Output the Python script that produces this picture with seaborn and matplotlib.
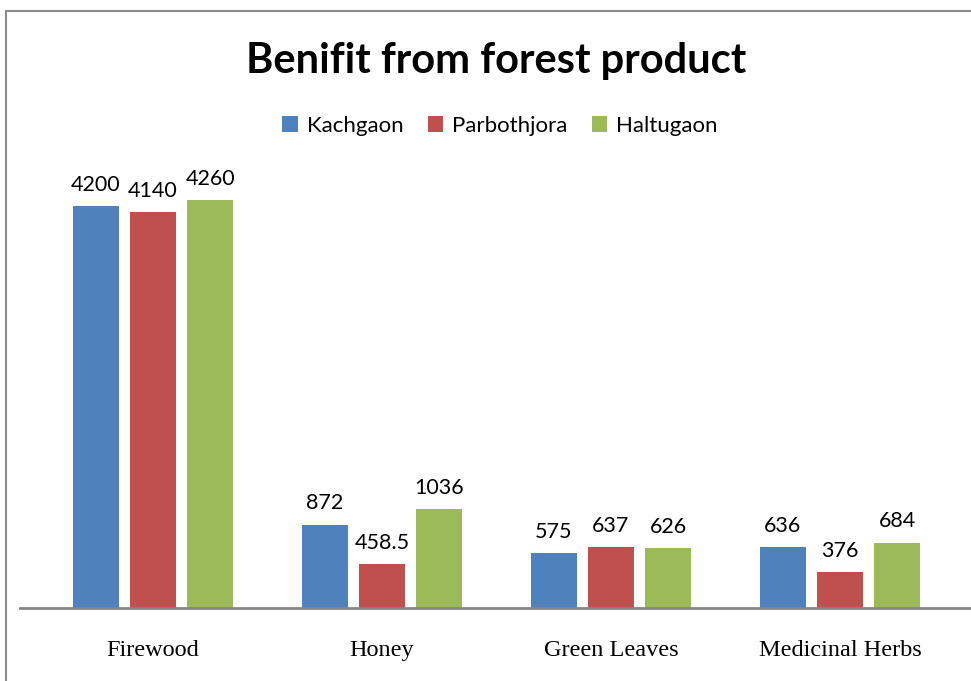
import matplotlib
matplotlib.use("Agg")
import matplotlib.pyplot as plt
import matplotlib.patches as mpatches
import seaborn as sns
import pandas as pd

categories = ["Firewood", "Honey", "Green Leaves", "Medicinal Herbs"]
series_names = ["Kachgaon", "Parbothjora", "Haltugaon"]
kachgaon = [4200, 872, 575, 636]
parbothjora = [4140, 458.5, 637, 376]
haltugaon = [4260, 1036, 626, 684]
label_text = {
    "Kachgaon": ["4200", "872", "575", "636"],
    "Parbothjora": ["4140", "458.5", "637", "376"],
    "Haltugaon": ["4260", "1036", "626", "684"],
}
colors = ["#4F81BD", "#C0504D", "#9BBB59"]

rows = []
for name, vals in zip(series_names, [kachgaon, parbothjora, haltugaon]):
    for c, v in zip(categories, vals):
        rows.append({"Product": c, "Village": name, "Value": v})
df = pd.DataFrame(rows)

sns.set_style("white")
plt.rcParams["font.family"] = ["Lato", "DejaVu Sans"]
plt.rcParams["text.color"] = "black"
plt.rcParams["xtick.color"] = "black"
plt.rcParams["axes.labelcolor"] = "black"

W, H = 971, 681
fig = plt.figure(figsize=(W / 100, H / 100), dpi=100)
ax = fig.add_axes([20 / W, (H - 608) / H, (971 - 20) / W, (608 - 140) / H])

sns.barplot(data=df, x="Product", y="Value", hue="Village", order=categories,
            hue_order=series_names, palette=colors, width=0.75, gap=0.2,
            ax=ax, saturation=1, edgecolor="none", legend=False)

px_per_cat = 229.0
ax.set_xlim(-(153 - 20) / px_per_cat, (971 - 153) / px_per_cat)
ax.set_ylim(0, (608 - 140) / 0.0957)

for container, name in zip(ax.containers, series_names):
    ax.bar_label(container, labels=label_text[name], padding=8, fontsize=15.5,
                 color="black")

for s in ["top", "right", "left"]:
    ax.spines[s].set_visible(False)
ax.spines["bottom"].set_color("#868686")
ax.spines["bottom"].set_linewidth(2)
ax.set_yticks([])
ax.set_xlabel("")
ax.set_ylabel("")
ax.tick_params(axis="x", length=0, pad=23, colors="black")
for lbl in ax.get_xticklabels():
    lbl.set_fontfamily(["Liberation Serif", "DejaVu Serif"])
    lbl.set_fontsize(17.5)
    lbl.set_color("black")

fig.text(496 / W, 1 - 61 / H, "Benifit from forest product", ha="center",
         va="center", fontsize=30, fontweight="bold", color="black")

handles = [mpatches.Patch(facecolor=c, edgecolor="none", label=n)
           for c, n in zip(colors, series_names)]
leg = fig.legend(handles=handles, loc="center", bbox_to_anchor=(500 / W, 1 - 126 / H),
                 ncol=3, frameon=False, fontsize=16, handlelength=0.7,
                 handleheight=0.7, handletextpad=0.4, columnspacing=1.1)
for t in leg.get_texts():
    t.set_color("black")

border = mpatches.Rectangle((6 / W, -0.5), 2, 1.5 - 11 / H,
                            transform=fig.transFigure, fill=False,
                            edgecolor="#8C8C8C", linewidth=1.5, clip_on=False)
fig.patches.append(border)

fig.savefig("out.png", dpi=100, facecolor="white")
